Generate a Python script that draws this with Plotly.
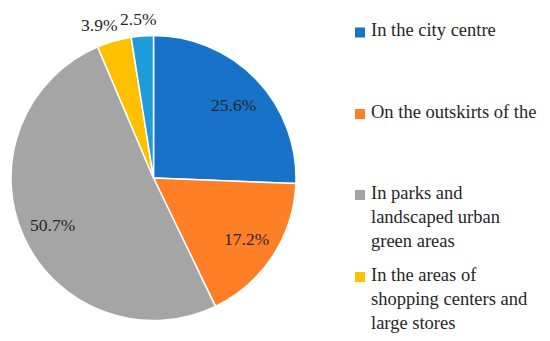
import math
import plotly.graph_objects as go

labels = ["In the city centre", "On the outskirts of the", "In parks and landscaped urban green areas",
          "In the areas of shopping centers and large stores", "Other"]
values = [25.6, 17.2, 50.7, 3.9, 2.5]
colors = ["#1872C8", "#FF7F27", "#A5A5A5", "#FFC000", "#1E9BDB"]
legend_text = ["In the city centre", "On the outskirts of the",
               "In parks and<br>landscaped urban<br>green areas",
               "In the areas of<br>shopping centers and<br>large stores"]
inside = [True, True, True, False, False]

FONT = "Liberation Serif"
TXT = "#262626"
W, H = 550, 341
CX, CY, R = 153.5, 178.0, 142.5

fig = go.Figure()
fig.add_trace(go.Pie(
    labels=labels, values=values, sort=False, direction="clockwise", rotation=0,
    marker=dict(colors=colors, line=dict(color="white", width=1.5)),
    textinfo="none",
    showlegend=False, hoverinfo="label+value",
    domain=dict(x=[(CX-R)/W, (CX+R)/W], y=[1-(CY+R)/H, 1-(CY-R)/H]),
))

shapes, annots = [], []
# data labels placed from the slice angles
total = sum(values)
cum = 0.0
for v, ins in zip(values, inside):
    mid = (cum + v/2) / total * 2 * math.pi
    cum += v
    if ins:
        x = CX + 111 * math.sin(mid)
        y = CY - 108 * math.cos(mid) + 2
    else:
        x = CX + 197 * math.sin(mid)
        y = CY - 159 * math.cos(mid)
    annots.append(dict(xref="paper", yref="paper", x=x/W, y=1-y/H, xanchor="center", yanchor="middle",
                       text=f"{v:.1f}%", showarrow=False,
                       font=dict(family=FONT, size=17.5, color=TXT)))

# legend drawn manually
leg_y = [32.5, 114, 195, 277]
for c, t, y in zip(colors, legend_text, leg_y):
    shapes.append(dict(type="rect", xref="paper", yref="paper",
                       x0=355/W, x1=365/W, y0=1-(y+5)/H, y1=1-(y-5)/H,
                       fillcolor=c, line=dict(width=0)))
    annots.append(dict(xref="paper", yref="paper", x=369/W, y=1-(y-14)/H,
                       xanchor="left", yanchor="top", align="left", text=t, showarrow=False,
                       font=dict(family=FONT, size=18.5, color=TXT)))

fig.update_layout(width=W, height=H, margin=dict(l=0, r=0, t=0, b=0),
                  paper_bgcolor="white", plot_bgcolor="white",
                  shapes=shapes, annotations=annots)
fig.write_html("out.html", config={"displayModeBar": False},
               post_script="document.body.style.margin='0';")
